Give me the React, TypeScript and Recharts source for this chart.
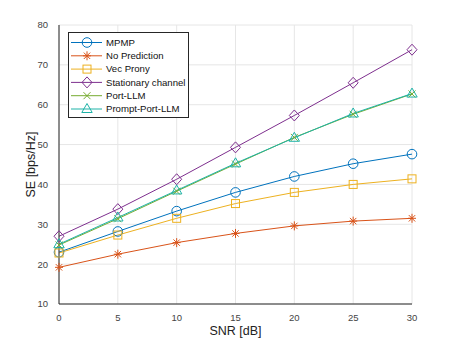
import React from 'react';
import { LineChart, Line, XAxis, YAxis, CartesianGrid } from 'recharts';

const snr = [0, 5, 10, 15, 20, 25, 30];
const mpmp = [23.0, 28.2, 33.3, 38.0, 42.0, 45.2, 47.6];
const noPrediction = [19.2, 22.5, 25.4, 27.7, 29.6, 30.8, 31.5];
const vecProny = [22.8, 27.3, 31.5, 35.2, 38.0, 40.0, 41.4];
const stationary = [27.0, 33.8, 41.3, 49.3, 57.3, 65.5, 73.8];
const portLLM = [24.8, 31.4, 38.3, 45.1, 51.8, 57.6, 62.7];
const promptPortLLM = [25.0, 31.7, 38.5, 45.3, 51.7, 57.8, 62.8];
const xTicks = [0, 5, 10, 15, 20, 25, 30];
const yTicks = [10, 20, 30, 40, 50, 60, 70, 80];

const data = snr.map((s, i) => ({
  snr: s,
  mpmp: mpmp[i],
  noPrediction: noPrediction[i],
  vecProny: vecProny[i],
  stationary: stationary[i],
  portLLM: portLLM[i],
  promptPortLLM: promptPortLLM[i],
}));

type Shape = 'circle' | 'star' | 'square' | 'diamond' | 'x' | 'triangle';

const series: { key: string; name: string; color: string; shape: Shape }[] = [
  { key: 'mpmp', name: 'MPMP', color: '#0072BD', shape: 'circle' },
  { key: 'noPrediction', name: 'No Prediction', color: '#D95319', shape: 'star' },
  { key: 'vecProny', name: 'Vec Prony', color: '#EDB120', shape: 'square' },
  { key: 'stationary', name: 'Stationary channel', color: '#7E2F8E', shape: 'diamond' },
  { key: 'portLLM', name: 'Port-LLM', color: '#77AC30', shape: 'x' },
  { key: 'promptPortLLM', name: 'Prompt-Port-LLM', color: '#1FB3A8', shape: 'triangle' },
];

function Marker({ cx, cy, shape, color }: { cx: number; cy: number; shape: Shape; color: string }) {
  const r = 4.8;
  const sw = 1;
  switch (shape) {
    case 'circle':
      return <circle cx={cx} cy={cy} r={r} fill="none" stroke={color} strokeWidth={sw} />;
    case 'square':
      return <rect x={cx - 4} y={cy - 4} width={8} height={8} fill="none" stroke={color} strokeWidth={sw} />;
    case 'diamond':
      return (
        <polygon
          points={`${cx},${cy - 5.5} ${cx + 5},${cy} ${cx},${cy + 5.5} ${cx - 5},${cy}`}
          fill="none"
          stroke={color}
          strokeWidth={sw}
        />
      );
    case 'triangle':
      return (
        <polygon
          points={`${cx},${cy - 5.5} ${cx + 5.2},${cy + 3.5} ${cx - 5.2},${cy + 3.5}`}
          fill="none"
          stroke={color}
          strokeWidth={sw}
        />
      );
    case 'x':
      return (
        <g stroke={color} strokeWidth={sw}>
          <line x1={cx - 3.5} y1={cy - 3.5} x2={cx + 3.5} y2={cy + 3.5} />
          <line x1={cx - 3.5} y1={cy + 3.5} x2={cx + 3.5} y2={cy - 3.5} />
        </g>
      );
    case 'star':
    default:
      return (
        <g stroke={color} strokeWidth={sw}>
          <line x1={cx - 4} y1={cy} x2={cx + 4} y2={cy} />
          <line x1={cx} y1={cy - 4.5} x2={cx} y2={cy + 4.5} />
          <line x1={cx - 3.2} y1={cy - 3.2} x2={cx + 3.2} y2={cy + 3.2} />
          <line x1={cx - 3.2} y1={cy + 3.2} x2={cx + 3.2} y2={cy - 3.2} />
        </g>
      );
  }
}

const font = '"Liberation Sans", Arial, sans-serif';

function LegendBox() {
  const rowH = 13.3;
  return (
    <svg width={121} height={86} style={{ display: 'block' }}>
      <rect x={0.5} y={0.5} width={120} height={85} fill="#fff" stroke="#262626" strokeWidth={1} />
      {series.map((s, i) => {
        const y = 10.5 + i * rowH;
        return (
          <g key={s.key}>
            <line x1={3} y1={y} x2={34} y2={y} stroke={s.color} strokeWidth={1} />
            <Marker cx={19} cy={y} shape={s.shape} color={s.color} />
            <text x={38} y={y + 3.3} fontSize={9.6} fontFamily={font} fill="#111">
              {s.name}
            </text>
          </g>
        );
      })}
    </svg>
  );
}

export default function App() {
  return (
    <div style={{ position: 'absolute', left: 0, top: 0, width: 455, height: 341, background: '#fff' }}>
      <LineChart width={455} height={341} data={data} margin={{ top: 25, right: 43, bottom: 7, left: 0 }}>
        <CartesianGrid stroke="#e6e6e6" strokeWidth={1} />
        <XAxis
          dataKey="snr"
          type="number"
          domain={[0, 30]}
          ticks={xTicks}
          tickLine={false}
          axisLine={{ stroke: '#262626' }}
          tick={{ fontSize: 9.5, fill: '#444', fontFamily: font }}
          tickMargin={4}
          height={30}
          label={{ value: 'SNR [dB]', position: 'insideBottom', offset: -1, fontSize: 12.5, fill: '#222', fontFamily: font }}
        />
        <XAxis xAxisId="top" orientation="top" dataKey="snr" type="number" domain={[0, 30]} ticks={xTicks} tick={false} tickLine={false} axisLine={{ stroke: '#262626' }} height={0} />
        <YAxis
          type="number"
          domain={[10, 80]}
          ticks={yTicks}
          tickLine={false}
          axisLine={{ stroke: '#262626' }}
          tick={{ fontSize: 9.5, fill: '#444', fontFamily: font }}
          tickMargin={5}
          width={59}
          label={{ value: 'SE [bps/Hz]', angle: -90, position: 'insideLeft', offset: 31, dy: 33, fontSize: 12.5, fill: '#222', fontFamily: font }}
        />
        <YAxis yAxisId="right" orientation="right" type="number" domain={[10, 80]} ticks={yTicks} tick={false} tickLine={false} axisLine={{ stroke: '#262626' }} width={0} />
        {series.map((s) => (
          <Line
            key={s.key}
            dataKey={s.key}
            name={s.name}
            stroke={s.color}
            strokeWidth={1}
            isAnimationActive={false}
            dot={(p: any) => <Marker key={`${s.key}-${p.index}`} cx={p.cx} cy={p.cy} shape={s.shape} color={s.color} />}
            activeDot={false}
          />
        ))}
      </LineChart>
      <div style={{ position: 'absolute', left: 68, top: 32 }}>
        <LegendBox />
      </div>
    </div>
  );
}
